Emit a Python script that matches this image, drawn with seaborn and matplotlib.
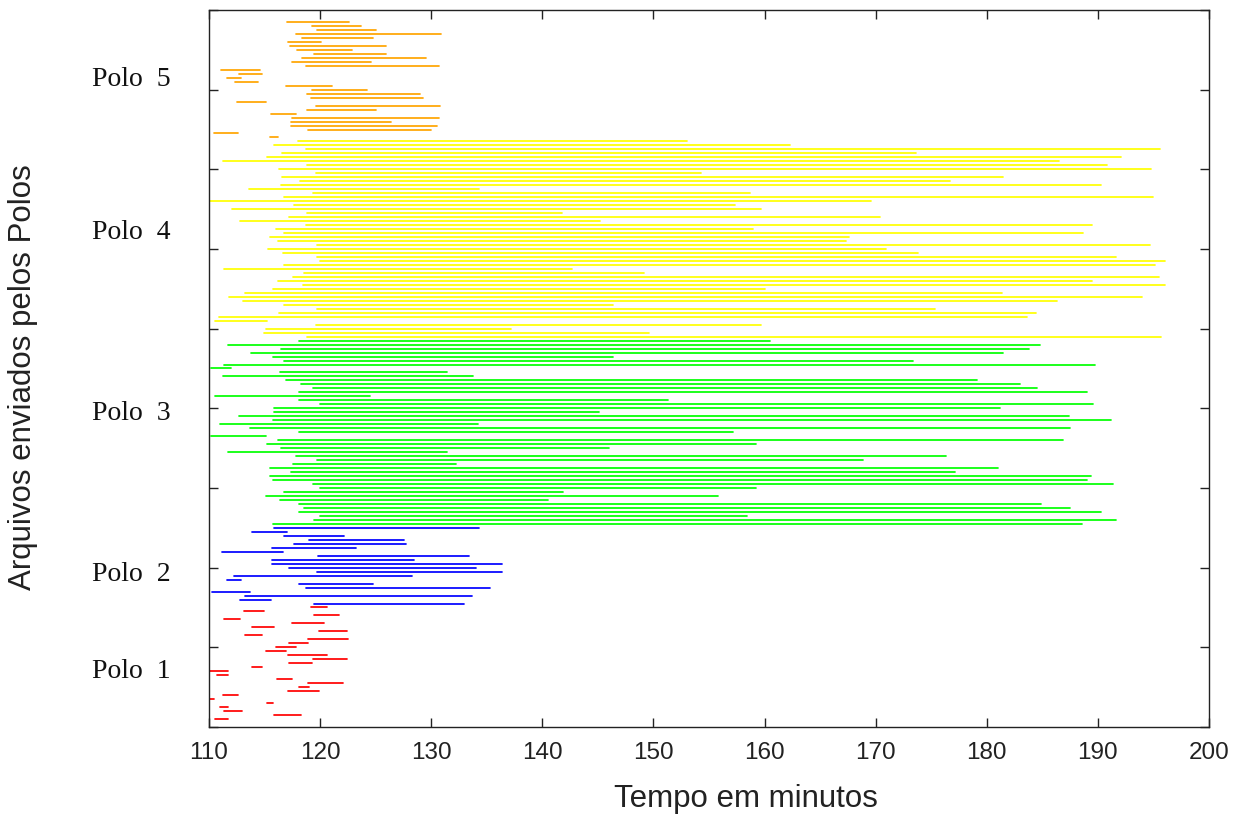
import numpy as np
import pandas as pd
import matplotlib
matplotlib.use("Agg")
import matplotlib.pyplot as plt
import matplotlib.transforms as mtransforms
import seaborn as sns

# inicio / fim (minutos) de cada arquivo, em ordem, por polo
polo1_inicio = [110.6, 115.85, 111.4, 111.0, 115.2, 110.1, 111.3, 117.1, 118.1, 118.9,
                116.1, 110.75, 110.1, 113.9, 117.2, 119.4, 117.1, 115.1, 116.0, 117.2,
                118.9, 113.3, 119.9, 113.9, 117.5, 111.4, 119.45, 113.2, 119.2]
polo1_fim = [111.7, 118.25, 113.0, 111.7, 115.8, 110.5, 112.6, 119.9, 119.0, 122.1,
             117.5, 111.7, 111.7, 114.8, 119.3, 122.4, 120.6, 116.9, 117.8, 118.9,
             122.5, 114.8, 122.4, 115.85, 120.4, 112.8, 121.7, 115.0, 120.6]

polo2_inicio = [119.5, 112.8, 113.3, 110.3, 118.7, 118.1, 111.65, 112.3, 119.7, 117.2,
                115.7, 115.7, 119.8, 111.2, 115.7, 117.65, 119.0, 116.75, 113.9, 115.85]
polo2_fim = [133.0, 115.6, 133.7, 113.7, 135.3, 124.8, 112.9, 128.3, 136.4, 134.0,
             136.4, 128.5, 133.4, 116.7, 123.2, 127.7, 127.6, 122.2, 117.0, 134.3]

polo3_inicio = [115.8, 119.5, 120.0, 118.1, 118.6, 118.1, 116.4, 115.1, 116.8, 120.0,
                119.4, 115.8, 115.5, 117.4, 115.5, 117.6, 119.7, 117.8, 111.7, 116.5,
                115.2, 116.2, 110.2, 118.1, 113.7, 111.0, 115.8, 112.7, 115.9, 115.9,
                120.0, 118.1, 110.6, 118.1, 119.4, 118.3, 116.9, 111.3, 116.4, 110.2,
                111.4, 116.8, 115.8, 113.8, 116.5, 111.7, 118.1]
polo3_fim = [188.6, 191.6, 158.4, 190.3, 187.5, 184.9, 140.5, 155.8, 141.9, 159.2,
             191.4, 189.0, 189.4, 177.1, 181.0, 132.2, 168.9, 176.3, 131.4, 146.0,
             159.2, 186.9, 115.1, 157.2, 187.5, 134.2, 191.2, 187.4, 145.1, 181.2,
             189.6, 151.3, 124.5, 189.0, 184.5, 183.0, 179.1, 133.8, 131.4, 112.0,
             189.7, 173.4, 146.4, 181.5, 183.8, 184.8, 160.5]

polo4_inicio = [118.8, 115.0, 115.1, 119.6, 110.6, 110.9, 116.3, 119.7, 116.8, 113.1,
                111.8, 113.3, 115.8, 118.5, 116.2, 117.6, 118.6, 111.4, 116.8, 120.0,
                119.7, 116.7, 115.3, 119.7, 116.2, 115.5, 116.8, 116.0, 118.7, 112.8,
                117.2, 118.8, 112.1, 117.7, 110.1, 116.8, 119.4, 113.6, 116.5, 118.2,
                116.6, 119.6, 116.3, 118.8, 111.3, 115.2, 116.6, 118.7, 115.9, 118.0]
polo4_fim = [195.7, 149.6, 137.2, 159.7, 115.2, 183.6, 184.4, 175.3, 146.4, 186.3,
             194.0, 181.4, 160.0, 196.0, 189.5, 195.5, 149.2, 142.7, 195.1, 196.0,
             191.6, 173.8, 170.9, 194.7, 167.3, 167.6, 188.7, 159.0, 189.5, 145.2,
             170.4, 141.8, 159.7, 157.3, 169.6, 195.0, 158.7, 134.3, 190.3, 176.7,
             181.5, 154.3, 194.8, 190.8, 186.5, 192.1, 173.6, 195.6, 162.3, 153.0]

polo5_inicio = [115.5, 110.5, 118.9, 117.4, 117.4, 117.5, 115.6, 118.8, 119.6, 112.5,
                119.2, 118.8, 119.3, 116.9, 112.4, 111.6, 112.7, 111.1, 118.7, 117.5,
                118.4, 119.45, 117.9, 117.3, 117.1, 118.4, 117.8, 119.7, 119.3, 117.0]
polo5_fim = [116.2, 112.6, 130.0, 130.5, 126.4, 130.7, 117.8, 125.0, 130.8, 115.1,
             129.3, 129.0, 124.2, 121.1, 114.4, 112.9, 114.8, 114.6, 130.7, 124.55,
             129.5, 125.9, 122.9, 125.9, 120.05, 124.8, 130.9, 125.0, 123.7, 122.6]

polos = ["Polo  1", "Polo  2", "Polo  3", "Polo  4", "Polo  5"]
inicios = [polo1_inicio, polo2_inicio, polo3_inicio, polo4_inicio, polo5_inicio]
fins = [polo1_fim, polo2_fim, polo3_fim, polo4_fim, polo5_fim]
cores = ["#ff0000", "#0000ff", "#00ff00", "#ffff00", "#ffa500"]
# posicao vertical dos rotulos dos polos
rotulo_y = [14.0, 38.4, 78.7, 124.2, 162.5]

# long form: two rows per file (start and end)
rows = []
arquivo = 2
for polo, ini, fim in zip(polos, inicios, fins):
    for a, b in zip(ini, fim):
        rows.append({"arquivo": arquivo, "minutos": a, "polo": polo})
        rows.append({"arquivo": arquivo, "minutos": b, "polo": polo})
        arquivo += 1
df = pd.DataFrame(rows)

sns.set_style("ticks")
plt.rcParams["font.family"] = ["Liberation Sans", "DejaVu Sans"]

fig, ax = plt.subplots(figsize=(12.43, 8.14), dpi=100)
fig.subplots_adjust(left=0.168, right=0.9727, top=0.9877, bottom=0.1069)

sns.lineplot(data=df, x="minutos", y="arquivo", hue="polo", units="arquivo",
             estimator=None, sort=False, palette=dict(zip(polos, cores)),
             legend=False, linewidth=1.25, ax=ax)

ax.set_xlim(110, 200)
ax.set_ylim(0, 180)
ax.set_xticks(np.arange(110, 201, 10))
ax.set_yticks(np.arange(0, 181, 20))
ax.tick_params(direction="in", length=6.5, width=1.0, top=True, right=True,
               labelsize=17.5, pad=11, colors="#222222", labelcolor="#222222")
ax.tick_params(axis="y", labelleft=False)
for s in ax.spines.values():
    s.set_linewidth(1.0)
    s.set_color("#222222")

ax.set_xlabel("Tempo em minutos", fontsize=22.5, color="#222222")
ax.set_ylabel("Arquivos enviados pelos Polos", fontsize=22.5, color="#222222")
ax.xaxis.set_label_coords(0.537, -0.079)
ax.yaxis.set_label_coords(-0.171, 0.488)

trans = mtransforms.blended_transform_factory(ax.transAxes, ax.transData)
for nome, yy in zip(polos, rotulo_y):
    ax.text(-0.038, yy, nome, transform=trans, ha="right", va="center",
            fontsize=20, family=["Liberation Serif", "DejaVu Serif"], color="#111111")

fig.savefig("out.png", dpi=100)
